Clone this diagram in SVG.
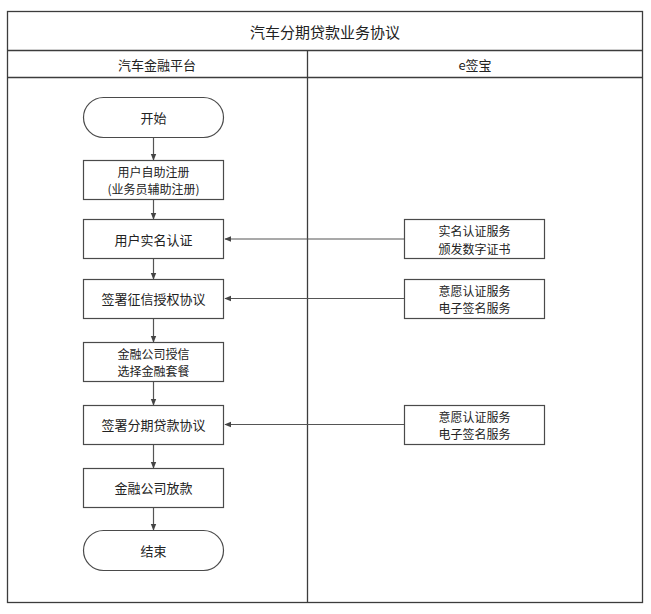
<svg xmlns="http://www.w3.org/2000/svg" width="651" height="614" viewBox="0 0 651 614">
<style>
.frame{fill:none;stroke:#3c3c3c;stroke-width:1.3}
.box{fill:#fff;stroke:#4a4a4a;stroke-width:1.2}
.t{font-family:"Noto Sans CJK SC","Liberation Sans",sans-serif;font-size:13px;fill:#222;text-anchor:middle;dominant-baseline:central}
.t2{font-size:12px}
.ttl{font-size:15px}
.con{fill:none;stroke:#555;stroke-width:1.2;marker-end:url(#ah)}
</style>
<defs>
<marker id="ah" viewBox="0 0 10 10" refX="9" refY="5" markerWidth="7" markerHeight="7" markerUnits="userSpaceOnUse" orient="auto">
<path d="M0,1 L10,5 L0,9 Z" fill="#444"/>
</marker>
</defs>
<rect width="651" height="614" fill="#fff"/>
<g id="pool">
<rect class="frame" x="7.5" y="11.5" width="635" height="591"/>
<line class="frame" x1="7.5" y1="50.5" x2="642.5" y2="50.5"/>
<line class="frame" x1="7.5" y1="77.5" x2="642.5" y2="77.5"/>
<line class="frame" x1="307.5" y1="50.5" x2="307.5" y2="602.5"/>
<text class="t ttl" x="325" y="31">汽车分期贷款业务协议</text>
<text class="t" x="157" y="64">汽车金融平台</text>
<text class="t" x="475" y="64">e签宝</text>
</g>
<g id="connectors">
<line class="con" x1="153.5" y1="137" x2="153.5" y2="160"/>
<line class="con" x1="153.5" y1="200" x2="153.5" y2="219"/>
<line class="con" x1="153.5" y1="259" x2="153.5" y2="279"/>
<line class="con" x1="153.5" y1="318" x2="153.5" y2="342"/>
<line class="con" x1="153.5" y1="382" x2="153.5" y2="405"/>
<line class="con" x1="153.5" y1="444" x2="153.5" y2="468"/>
<line class="con" x1="153.5" y1="507" x2="153.5" y2="530"/>
<line class="con" x1="404" y1="239" x2="225" y2="239"/>
<line class="con" x1="404" y1="298.5" x2="225" y2="298.5"/>
<line class="con" x1="404" y1="424.5" x2="225" y2="424.5"/>
</g>
<g id="start">
<rect class="box" x="83.5" y="97.5" width="140" height="40" rx="20" ry="20"/>
<text class="t" x="153.5" y="117">开始</text>
</g>
<g id="register">
<rect class="box" x="83.5" y="160.5" width="140" height="39"/>
<text class="t t2" x="153.5" y="171">用户自助注册</text>
<text class="t t2" x="153.5" y="188.5">(业务员辅助注册)</text>
</g>
<g id="realname">
<rect class="box" x="83.5" y="219.5" width="140" height="39"/>
<text class="t" x="153.5" y="239">用户实名认证</text>
</g>
<g id="credit">
<rect class="box" x="83.5" y="279.5" width="140" height="39"/>
<text class="t" x="153.5" y="298.5">签署征信授权协议</text>
</g>
<g id="grant">
<rect class="box" x="83.5" y="342.5" width="140" height="39"/>
<text class="t t2" x="153.5" y="353">金融公司授信</text>
<text class="t t2" x="153.5" y="370.5">选择金融套餐</text>
</g>
<g id="loan">
<rect class="box" x="83.5" y="405.5" width="140" height="39"/>
<text class="t" x="153.5" y="424.5">签署分期贷款协议</text>
</g>
<g id="payout">
<rect class="box" x="83.5" y="468.5" width="140" height="39"/>
<text class="t" x="153.5" y="487.5">金融公司放款</text>
</g>
<g id="end">
<rect class="box" x="83.5" y="530.5" width="140" height="40" rx="20" ry="20"/>
<text class="t" x="153.5" y="550">结束</text>
</g>
<g id="esign1">
<rect class="box" x="404.5" y="219.5" width="140" height="39"/>
<text class="t t2" x="474.5" y="230.5">实名认证服务</text>
<text class="t t2" x="474.5" y="248">颁发数字证书</text>
</g>
<g id="esign2">
<rect class="box" x="404.5" y="279.5" width="140" height="39"/>
<text class="t t2" x="474.5" y="290">意愿认证服务</text>
<text class="t t2" x="474.5" y="307.5">电子签名服务</text>
</g>
<g id="esign3">
<rect class="box" x="404.5" y="405.5" width="140" height="39"/>
<text class="t t2" x="474.5" y="416">意愿认证服务</text>
<text class="t t2" x="474.5" y="433.5">电子签名服务</text>
</g>
</svg>
